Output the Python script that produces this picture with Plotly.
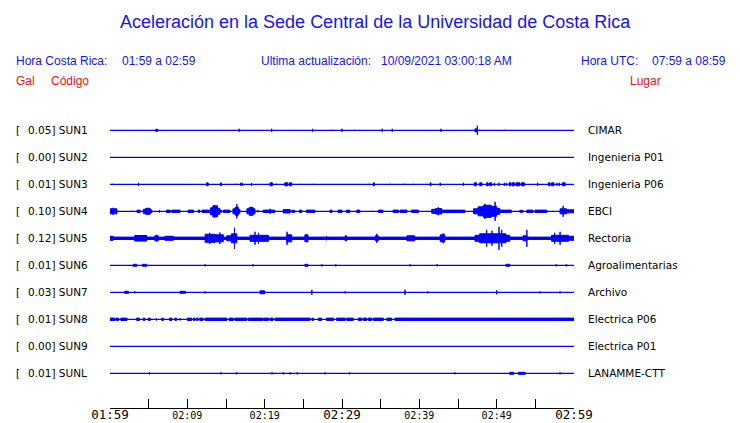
import plotly.graph_objects as go

# ---------------- data ----------------
title_text = "Aceleración en la Sede Central de la Universidad de Costa Rica"
hdr_local_label = "Hora Costa Rica:"
hdr_local_range = "01:59 a 02:59"
hdr_update_label = "Ultima actualización:"
hdr_update_value = "10/09/2021 03:00:18 AM"
hdr_utc_label = "Hora UTC:"
hdr_utc_range = "07:59 a 08:59"
col_gal, col_code, col_place = "Gal", "Código", "Lugar"

codes = ["SUN1", "SUN2", "SUN3", "SUN4", "SUN5", "SUN6", "SUN7", "SUN8", "SUN9", "SUNL"]
gal_max = [0.05, 0.00, 0.01, 0.10, 0.12, 0.01, 0.03, 0.01, 0.00, 0.01]
places = ["CIMAR", "Ingenieria P01", "Ingenieria P06", "EBCI", "Rectoria",
          "Agroalimentarias", "Archivo", "Electrica P06", "Electrica P01", "LANAMME-CTT"]

tick_minutes = list(range(0, 61, 5))
major_labels = {0: "01:59", 30: "02:29", 60: "02:59"}
minor_labels = {10: "02:09", 20: "02:19", 40: "02:39", 50: "02:49"}

# bursts: (start minute after 01:59, end minute, visible half amplitude)
sun1 = [(5.9, 6.2, 1.5), (16.7, 16.7, 2), (20.9, 20.9, 2), (26.2, 26.2, 2), (28.6, 28.6, 1),
        (30.0, 30.0, 2), (31.6, 31.6, 1), (35.2, 35.2, 2), (36.5, 36.5, 2), (42.8, 42.8, 2),
        (47.2, 47.4, 2), (47.5, 47.5, 5), (47.8, 47.8, 1), (51.0, 51.0, 1)]
sun2 = []
sun3 = [(0.3, 0.3, 1), (3.7, 3.7, 2), (12.5, 12.7, 2), (14.3, 14.4, 2), (16.2, 16.2, 1),
        (16.9, 16.9, 2), (17.1, 17.1, 2), (18.3, 18.3, 2), (20.4, 20.4, 1), (20.7, 21.0, 2),
        (21.5, 21.5, 1), (22.6, 23.0, 2), (23.2, 23.5, 2), (23.8, 23.8, 1), (24.7, 24.7, 1),
        (26.4, 26.4, 1), (33.5, 33.5, 1), (34.05, 34.2, 2), (36.25, 36.25, 1), (38.1, 38.1, 1),
        (39.2, 39.2, 1), (41.4, 41.5, 2), (42.7, 42.7, 2), (45.7, 45.7, 2), (47.1, 47.4, 2),
        (47.8, 48.1, 2), (48.7, 48.9, 2), (49.1, 49.35, 2), (49.7, 49.7, 2), (50.3, 50.3, 2),
        (51.0, 51.0, 2), (51.25, 51.25, 2), (51.6, 51.85, 2), (52.0, 52.3, 2), (52.5, 53.0, 2),
        (53.2, 53.6, 2), (55.3, 55.3, 2), (56.7, 56.9, 2), (57.1, 57.4, 2), (57.8, 57.8, 2),
        (58.1, 58.1, 2), (58.5, 58.85, 2)]
sun4 = [(0.0, 0.9, 3), (0.4, 0.4, 4), (2.9, 2.9, 1), (3.5, 3.9, 1.7), (4.3, 4.6, 2.5), (4.6, 5.2, 3.5),
        (5.2, 5.4, 2), (6.4, 6.4, 1.7), (7.3, 7.8, 1.7), (8.0, 9.05, 1.7), (10.1, 10.8, 1.7),
        (11.4, 11.6, 1.7), (11.9, 12.9, 1.7), (13.0, 13.3, 4), (13.3, 13.9, 6), (13.5, 13.5, 6.7),
        (13.9, 14.2, 3.5), (14.2, 14.4, 1.7), (14.65, 15.5, 1.7), (15.9, 16.2, 3), (16.2, 16.6, 4.5),
        (16.4, 16.4, 7.5), (16.6, 16.8, 2.5), (17.7, 18.0, 3), (18.0, 18.5, 4.5), (18.5, 18.75, 3),
        (19.0, 19.2, 1), (19.8, 21.3, 1.7), (20.7, 20.7, 3), (22.4, 23.3, 2.2), (23.5, 23.9, 1.5),
        (24.5, 24.8, 1.7), (25.4, 26.5, 1.7), (28.45, 28.7, 1.7), (29.5, 30.0, 1.7), (30.6, 31.0, 1.7),
        (31.9, 32.3, 1.7), (34.0, 34.0, 1), (34.7, 35.3, 1.7), (36.6, 37.3, 1.7), (37.5, 38.4, 1.7),
        (39.0, 39.9, 1.7), (41.6, 42.1, 2.5), (42.1, 42.9, 3.2), (42.45, 42.45, 4.5), (42.9, 45.9, 1.7),
        (47.0, 47.6, 3), (47.6, 48.3, 5), (48.3, 49.3, 6.5), (48.5, 48.5, 8), (49.0, 49.0, 7),
        (49.3, 50.0, 5.5), (49.8, 49.8, 10), (50.0, 50.4, 3.5), (50.4, 51.9, 1.7), (53.0, 53.4, 1.5),
        (53.9, 54.7, 1.7), (54.95, 56.5, 1.7), (58.2, 59.05, 3), (58.6, 58.6, 6), (59.05, 60.0, 2)]
sun5 = [(0.0, 60.0, 1.7), (0.0, 0.4, 2.5), (3.2, 4.75, 3.3), (5.8, 6.25, 3), (6.0, 6.0, 4),
        (7.1, 8.2, 2.5), (12.3, 13.6, 4.5), (12.9, 12.9, 6), (13.6, 14.65, 4), (14.2, 14.2, 6.3),
        (15.1, 15.7, 3), (15.7, 16.4, 5), (16.1, 16.1, 11), (18.1, 20.5, 3.5), (18.75, 18.75, 7),
        (19.2, 19.2, 6), (22.85, 23.5, 4), (22.9, 22.9, 7), (25.2, 25.6, 4), (28.0, 28.0, 2.5),
        (30.4, 30.6, 3), (34.3, 34.7, 3), (34.5, 34.5, 5), (38.4, 39.4, 3), (42.7, 43.3, 4),
        (43.1, 43.1, 5.5), (47.2, 47.8, 3.5), (47.8, 51.2, 5), (51.2, 51.7, 3.5), (48.7, 48.7, 9),
        (49.4, 49.4, 8), (50.3, 50.3, 12), (50.65, 50.65, 9), (53.4, 53.9, 3), (53.9, 53.9, 9),
        (57.1, 59.3, 3.5), (57.5, 57.5, 6), (58.2, 58.2, 7), (59.3, 60.0, 2.5)]
sun6 = [(3.0, 3.45, 1.5), (4.2, 4.75, 1.5), (12.3, 12.3, 1.5), (18.5, 18.5, 1.5), (25.2, 25.6, 1.5),
        (27.4, 27.4, 1.5), (29.2, 29.2, 1.5), (38.8, 38.8, 1.5), (42.3, 42.3, 1.5), (51.2, 51.7, 1.5),
        (57.7, 57.7, 1.5), (59.0, 59.0, 1.5)]
sun7 = [(1.9, 2.4, 1.5), (3.2, 3.2, 1.5), (9.05, 9.75, 1.5), (12.3, 12.3, 1.5), (19.4, 20.0, 2),
        (26.1, 26.1, 3), (30.4, 30.4, 1.5), (38.15, 38.15, 3), (41.1, 41.1, 1.5), (50.0, 50.0, 2.5),
        (55.6, 55.6, 1.5), (58.2, 58.2, 1.5)]
sun8 = [(0.0, 0.65, 1.7), (0.8, 1.1, 1.7), (1.4, 2.2, 1.7), (3.45, 3.8, 1.7), (4.3, 4.5, 1.7),
        (4.95, 5.2, 1.7), (6.0, 6.0, 1.7), (6.7, 6.9, 1.7), (7.7, 8.0, 1.7), (8.4, 8.6, 1.7),
        (9.05, 9.05, 1.7), (10.0, 10.55, 1.7), (10.8, 11.0, 1.7), (11.2, 11.4, 1.7), (11.6, 12.05, 1.7),
        (12.3, 15.1, 1.7), (15.4, 15.95, 1.7), (16.15, 17.7, 1.7), (17.9, 19.8, 1.7), (19.9, 20.5, 1.7),
        (20.7, 21.1, 1.7), (21.35, 25.85, 1.7), (26.1, 26.3, 1.7), (26.95, 27.35, 1.7), (28.0, 28.9, 1.7),
        (29.3, 30.4, 1.7), (30.6, 31.45, 1.7), (32.1, 32.55, 1.7), (32.75, 33.2, 1.7), (33.4, 33.85, 1.7),
        (34.05, 35.35, 1.7), (35.8, 36.4, 1.7), (36.85, 60.0, 1.7)]
sun9 = []
sunl = [(5.1, 5.1, 1.5), (14.35, 14.35, 1.5), (16.4, 16.4, 1.5), (20.95, 20.95, 1.5), (22.4, 22.4, 1.5),
        (23.3, 23.3, 1.5), (24.2, 24.2, 1.5), (27.8, 27.8, 1.5), (31.0, 31.0, 1.5), (44.6, 44.6, 1.5),
        (51.7, 52.2, 1.5), (52.8, 53.7, 1.5), (58.2, 58.2, 1.5)]
station_events = [sun1, sun2, sun3, sun4, sun5, sun6, sun7, sun8, sun9, sunl]

# ---------------- layout helpers ----------------
W, H = 740, 423
ML, MR, MT, MB = 110, 166, 0, 15
PLOT_W = W - ML - MR
PLOT_H = H - MT - MB
ROW0, ROW_STEP = 130.3, 27
STROKE = 1.0
BLUE = "#0000ff"
TXT_BLUE = "#1414f0"
RED = "#f01010"
HDR_FONT = "Liberation Sans, Arial, sans-serif"
LBL_FONT = "DejaVu Sans, sans-serif"
MONO = "DejaVu Sans Mono, monospace"


def paper_x(px):
    return (px - ML) / PLOT_W


fig = go.Figure()

for i, ev in enumerate(station_events):
    c = ROW0 + ROW_STEP * i
    fig.add_trace(go.Scatter(x=[tick_minutes[0], tick_minutes[-1]], y=[c, c], mode="lines",
                             line=dict(color=BLUE, width=1.2), hoverinfo="skip", showlegend=False))
    if ev:
        xs, ys = [], []
        for t1, t2, a in ev:
            h = max(a - STROKE / 2, 0.3)
            xs += [t1, t2, t2, t1, t1, None]
            ys += [c - h, c - h, c + h, c + h, c - h, None]
        fig.add_trace(go.Scatter(x=xs, y=ys, mode="lines", fill="toself", fillcolor=BLUE,
                                 line=dict(color=BLUE, width=STROKE), hoverinfo="skip", showlegend=False))

fig.add_trace(go.Scatter(x=[tick_minutes[0], tick_minutes[-1]], y=[None, None], xaxis="x2",
                         mode="lines", hoverinfo="skip", showlegend=False))

ann = []


def text(px, py, s, color, size, family, anchor="left"):
    ann.append(dict(x=paper_x(px), xref="paper", y=py, yref="y", text=s, showarrow=False,
                    xanchor=anchor, yanchor="middle", font=dict(color=color, size=size, family=family),
                    borderpad=0))


text(375, 22, title_text, TXT_BLUE, 18, HDR_FONT, "center")
text(15, 61, hdr_local_label, TXT_BLUE, 12, HDR_FONT)
text(121, 61, hdr_local_range, TXT_BLUE, 12, HDR_FONT)
text(260, 61, hdr_update_label, TXT_BLUE, 12, HDR_FONT)
text(380, 61, hdr_update_value, TXT_BLUE, 12, HDR_FONT)
text(580, 61, hdr_utc_label, TXT_BLUE, 12, HDR_FONT)
text(651, 61, hdr_utc_range, TXT_BLUE, 12, HDR_FONT)
text(15, 81, col_gal, RED, 12, HDR_FONT)
text(50, 81, col_code, RED, 12, HDR_FONT)
text(629, 81, col_place, RED, 12, HDR_FONT)

for i, (code, g, place) in enumerate(zip(codes, gal_max, places)):
    c = ROW0 + ROW_STEP * i
    text(15, c, "[", "black", 10.5, LBL_FONT)
    text(27, c, f"{g:.2f}] {code}", "black", 10.5, LBL_FONT)
    text(587, c, place, "black", 10.5, LBL_FONT)

fig.update_layout(
    width=W, height=H, autosize=False,
    margin=dict(l=ML, r=MR, t=MT, b=MB, pad=0, autoexpand=False),
    paper_bgcolor="white", plot_bgcolor="white",
    showlegend=False, hovermode=False,
    annotations=ann,
    xaxis=dict(range=[tick_minutes[0], tick_minutes[-1]], tickmode="array", tickvals=tick_minutes,
               ticktext=[major_labels.get(t, "") for t in tick_minutes],
               ticks="inside", ticklen=9, tickwidth=1, tickcolor="black", automargin=False,
               ticklabelstandoff=-5,
               showline=True, linecolor="black", linewidth=1, showgrid=False, zeroline=False,
               tickfont=dict(family=MONO, size=12.5, color="black"), fixedrange=True),
    xaxis2=dict(range=[tick_minutes[0], tick_minutes[-1]], overlaying="x", anchor="y", side="bottom",
                tickmode="array", tickvals=list(minor_labels.keys()), automargin=False,
                ticklabelstandoff=0,
                ticktext=list(minor_labels.values()), ticks="", showline=False, showgrid=False,
                zeroline=False, tickfont=dict(family=MONO, size=10, color="black"), fixedrange=True),
    yaxis=dict(range=[PLOT_H, 0], visible=False, showgrid=False, zeroline=False, fixedrange=True,
               automargin=False),
)

fig.write_html("out.html", config={"displayModeBar": False},
               post_script="document.body.style.margin='0';document.body.style.overflow='hidden';")
